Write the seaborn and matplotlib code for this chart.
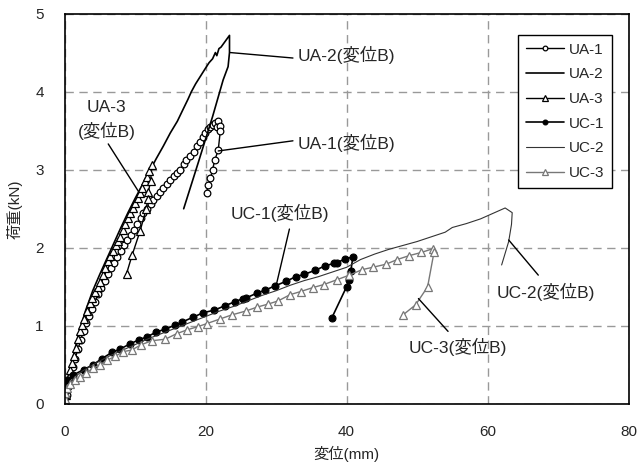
import pandas as pd
import matplotlib
matplotlib.use('Agg')
from matplotlib import pyplot as plt
import seaborn as sns

# ---- data (displacement mm, load kN) ----
ua1_x = [0, 0.3, 0.6, 0.9, 1.2, 1.5, 1.9, 2.3, 2.7, 3.1, 3.5, 3.9, 4.3, 4.8, 5.2, 5.7, 6.1, 6.6,
         7.0, 7.5, 8.0, 8.4, 8.9, 9.4, 9.8, 10.3, 10.8, 11.2, 11.7, 12.2, 12.6, 13.1, 13.6, 14.0,
         14.5, 15.0, 15.5, 15.9, 16.4, 16.9, 17.3, 17.8, 18.3, 18.8, 19.2, 19.6, 19.9, 20.3, 20.6,
         21.0, 21.4, 21.8, 21.6, 22.0, 22.1, 21.8, 21.3, 21.0, 20.7, 20.4, 20.2]
ua1_y = [0, 0.12, 0.25, 0.37, 0.48, 0.58, 0.70, 0.82, 0.94, 1.04, 1.13, 1.22, 1.31, 1.41, 1.49,
         1.58, 1.66, 1.74, 1.81, 1.88, 1.96, 2.03, 2.10, 2.17, 2.23, 2.31, 2.38, 2.44, 2.50, 2.56,
         2.61, 2.66, 2.72, 2.76, 2.82, 2.87, 2.92, 2.96, 3.00, 3.07, 3.12, 3.17, 3.23, 3.30, 3.36,
         3.42, 3.47, 3.52, 3.55, 3.57, 3.60, 3.62, 3.55, 3.56, 3.50, 3.25, 3.12, 3.00, 2.89, 2.80,
         2.70]

ua2_x = [0, 0.5, 1, 2, 3, 4, 5, 6, 7, 8, 9, 10, 11, 12, 13, 14, 15, 16, 16.8, 17.5, 18.0, 18.6,
         19.3, 20.0, 20.5, 21.0, 21.4, 21.6, 21.9, 22.2, 22.6, 23.0, 23.4, 23.4, 23.2, 22.5, 21.0,
         19.0, 16.9]
ua2_y = [0, 0.28, 0.52, 0.90, 1.20, 1.45, 1.66, 1.86, 2.06, 2.26, 2.45, 2.63, 2.80, 2.97, 3.14,
         3.30, 3.47, 3.62, 3.77, 3.90, 4.00, 4.10, 4.20, 4.30, 4.37, 4.42, 4.50, 4.46, 4.55, 4.57,
         4.62, 4.67, 4.72, 4.50, 4.32, 4.15, 3.68, 3.10, 2.50]

ua3_x = [0, 0.2, 0.4, 0.6, 0.8, 1.0, 1.3, 1.6, 1.9, 2.2, 2.5, 2.8, 3.2, 3.6, 3.9, 4.3, 4.7, 5.0,
         5.4, 5.8, 6.2, 6.5, 6.9, 7.3, 7.6, 7.9, 8.3, 8.6, 9.0, 9.3, 9.7, 10.0, 10.4, 10.7, 11.0,
         11.4, 11.7, 12.0, 12.4, 12.2, 11.9, 11.8, 11.6, 10.7, 9.6, 8.8]
ua3_y = [0, 0.12, 0.24, 0.34, 0.44, 0.52, 0.62, 0.72, 0.83, 0.93, 1.01, 1.09, 1.19, 1.29, 1.36,
         1.43, 1.50, 1.56, 1.65, 1.74, 1.83, 1.89, 1.96, 2.04, 2.09, 2.14, 2.23, 2.30, 2.38, 2.44,
         2.51, 2.57, 2.64, 2.70, 2.77, 2.85, 2.91, 2.98, 3.06, 2.85, 2.72, 2.62, 2.50, 2.21, 1.91,
         1.67]

uc1_x = [0, 0.05, 0.1, 0.2, 0.4, 1.2, 2.7, 4.0, 5.3, 6.7, 7.8, 9.3, 10.5, 11.7, 13.0, 14.3, 15.7,
         16.7, 18.2, 19.7, 21.2, 22.8, 24.2, 25.3, 25.8, 27.3, 28.5, 29.8, 31.4, 32.8, 34.0, 35.5,
         37.0, 38.2, 38.7, 39.8, 40.9, 40.6, 40.3, 40.0, 37.9]
uc1_y = [0, 0.08, 0.16, 0.24, 0.31, 0.37, 0.44, 0.50, 0.58, 0.66, 0.70, 0.77, 0.82, 0.86, 0.92,
         0.96, 1.01, 1.05, 1.11, 1.17, 1.20, 1.26, 1.31, 1.35, 1.36, 1.42, 1.46, 1.51, 1.57, 1.63,
         1.66, 1.71, 1.77, 1.80, 1.81, 1.86, 1.88, 1.70, 1.59, 1.50, 1.10]

uc2_x = [0, 0.3, 0.8, 1.5, 2.5, 4, 6, 8, 10, 12, 14, 16, 18, 20, 22, 24, 26, 28, 30, 32, 34, 36,
         38, 40, 42, 44, 46, 48, 50, 52, 54, 55, 57, 59, 60.5, 62.5, 63.5, 63.4, 63.0, 62.0]
uc2_y = [0, 0.18, 0.28, 0.35, 0.42, 0.50, 0.60, 0.68, 0.76, 0.84, 0.91, 0.98, 1.05, 1.12, 1.19,
         1.25, 1.32, 1.39, 1.45, 1.52, 1.58, 1.63, 1.69, 1.75, 1.85, 1.92, 1.98, 2.03, 2.08, 2.14,
         2.20, 2.26, 2.31, 2.37, 2.43, 2.51, 2.45, 2.30, 2.08, 1.78]

uc3_x = [0, 0.02, 0.07, 0.3, 0.8, 1.5, 2.2, 3.1, 4.1, 5.0, 6.0, 7.2, 8.3, 9.5, 10.9, 12.4, 14.3,
         15.9, 17.4, 18.9, 20.2, 22.1, 23.7, 25.7, 27.3, 28.9, 30.3, 32.0, 33.5, 35.2, 36.8, 38.6,
         40.4, 42.2, 43.7, 45.6, 47.2, 48.9, 50.6, 52.3, 52.4, 51.5, 49.8, 48.0]
uc3_y = [0, 0.07, 0.14, 0.20, 0.26, 0.31, 0.35, 0.40, 0.46, 0.50, 0.56, 0.61, 0.67, 0.69, 0.76,
         0.81, 0.83, 0.90, 0.95, 0.99, 1.03, 1.09, 1.14, 1.19, 1.24, 1.28, 1.32, 1.40, 1.44, 1.49,
         1.53, 1.59, 1.65, 1.72, 1.75, 1.79, 1.85, 1.90, 1.94, 1.99, 1.94, 1.50, 1.27, 1.14]

series_names = ['UA-1', 'UA-2', 'UA-3', 'UC-1', 'UC-2', 'UC-3']
x_ticks = [0, 20, 40, 60, 80]
y_ticks = [0, 1, 2, 3, 4, 5]

# label text, text anchor, leader line start (on curve), leader line end
callouts = [
    ('UA-2(変位B)', (33.0, 4.47), 'left', (23.5, 4.50), (32.4, 4.43)),
    ('UA-1(変位B)', (33.0, 3.34), 'left', (21.8, 3.24), (32.4, 3.37)),
    ('UA-3\n(変位B)', (6.0, 3.64), 'center', (10.5, 2.72), (6.2, 3.33)),
    ('UC-1(変位B)', (30.6, 2.45), 'center', (30.0, 1.51), (31.9, 2.24)),
    ('UC-2(変位B)', (61.3, 1.44), 'left', (63.0, 2.10), (67.2, 1.65)),
    ('UC-3(変位B)', (48.8, 0.73), 'left', (50.2, 1.35), (54.4, 0.93)),
]

sns.set_style('white')
plt.rcParams['font.family'] = ['Liberation Sans', 'Noto Sans CJK JP']

fig = plt.figure(figsize=(6.37, 4.69), dpi=100)
ax = fig.add_axes([0.1013, 0.1386, 0.8854, 0.8326])

styles = [
    dict(color='black', lw=1.0, marker='o', ms=4.8, mfc='white', mec='black', mew=0.9),
    dict(color='black', lw=1.2),
    dict(color='black', lw=1.0, marker='^', ms=5.2, mfc='white', mec='black', mew=0.9),
    dict(color='black', lw=1.2, marker='o', ms=5.0, mfc='black', mec='black', mew=0.8),
    dict(color='#333333', lw=0.8),
    dict(color='#777777', lw=1.0, marker='^', ms=5.2, mfc='white', mec='#777777', mew=0.9),
]
all_x = [ua1_x, ua2_x, ua3_x, uc1_x, uc2_x, uc3_x]
all_y = [ua1_y, ua2_y, ua3_y, uc1_y, uc2_y, uc3_y]

handles = []
for name, xs, ys, st in zip(series_names, all_x, all_y, styles):
    df = pd.DataFrame({'disp': xs, 'load': ys})
    sns.lineplot(data=df, x='disp', y='load', sort=False, estimator=None, ax=ax,
                 label=name, legend=False, **st)
    handles.append(ax.lines[-1])

for text, (tx, ty), ha, p0, p1 in callouts:
    ax.plot([p0[0], p1[0]], [p0[1], p1[1]], color='black', lw=1.0)
    ax.text(tx, ty, text, ha=ha, va='center', fontsize=12.5, linespacing=1.45)

ax.set_xlim(0, 80)
ax.set_ylim(0, 5)
ax.set_xticks(x_ticks)
ax.set_yticks(y_ticks)
ax.grid(True, color='#999999', lw=1.0, ls=(0, (6, 4)))
ax.tick_params(direction='in', length=4, width=1, labelsize=11, color='black')
ax.tick_params(axis='x', pad=15)
ax.tick_params(axis='y', pad=15)
for sp in ax.spines.values():
    sp.set_color('black')
    sp.set_linewidth(1.2)

ax.set_xlabel('変位(mm)', fontsize=11, labelpad=5)
ax.set_ylabel('荷重(kN)', fontsize=11, labelpad=9)

leg = ax.legend(handles=handles, labels=series_names, loc='upper right',
                bbox_to_anchor=(0.970, 0.945), fontsize=11, frameon=True, fancybox=False,
                framealpha=1, edgecolor='black', handlelength=2.5, labelspacing=0.7,
                markerscale=0.7, borderpad=0.5, handletextpad=0.3, borderaxespad=0)
leg.get_frame().set_linewidth(1.0)

fig.savefig('out.png', dpi=100)
plt.close(fig)
